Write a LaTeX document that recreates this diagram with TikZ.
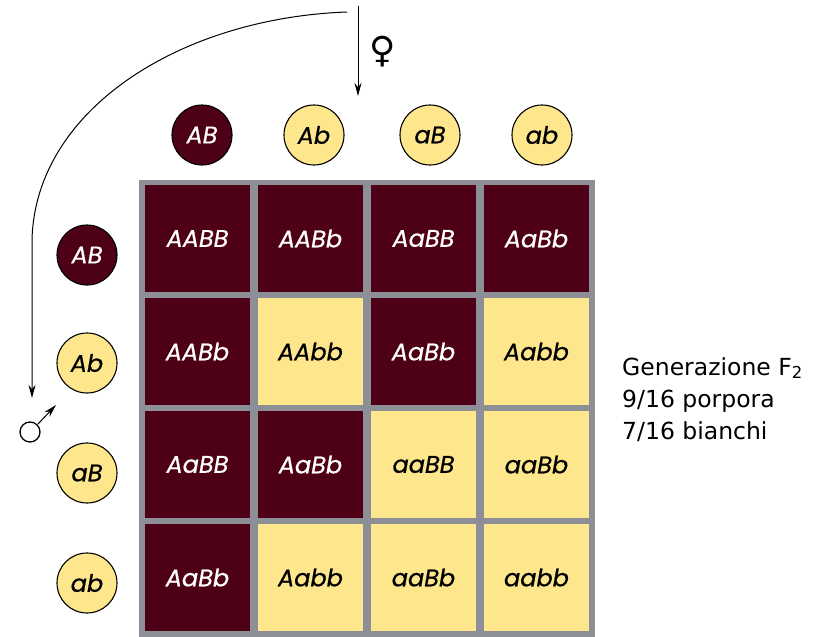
\documentclass[tikz,border=0pt]{standalone}
\usepackage{fontspec}
\setmainfont{DejaVu Sans}
\newfontfamily\geno{Poppins}[ItalicFeatures={FakeBold=0.7}]
\newfontfamily\symb{DejaVu Sans}
\usetikzlibrary{arrows.meta}
\definecolor{porpora}{HTML}{4E0016}
\definecolor{giallo}{HTML}{FDE68C}
\definecolor{griglia}{HTML}{8C8F96}
\begin{document}
\begin{tikzpicture}[x=1pt,y=-1pt,
  cell/.style={minimum width=105pt, minimum height=107pt, inner sep=0pt, font=\geno\itshape\fontsize{24}{28}\selectfont},
  dark/.style={cell, fill=porpora, text=white},
  light/.style={cell, fill=giallo, text=black},
  gam/.style={circle, draw=black, line width=1.1pt, minimum size=60pt, inner sep=0pt, font=\geno\itshape\fontsize{24}{26}\selectfont},
  gdark/.style={gam, fill=porpora, text=white},
  glight/.style={gam, fill=giallo, text=black},
  arr/.style={line width=1pt, -{Stealth[length=13pt,width=7pt]}},
  legend/.style={align=left, anchor=north west, inner sep=0pt, font=\fontsize{23.5}{32}\selectfont}
]
\useasboundingbox (0,0) rectangle (825,637);
% grid background
\fill[griglia] (139,180) rectangle (595,637);
% cells
\node[dark]  (c11) at (197.5,238.5) {AABB};
\node[dark]  (c12) at (310.5,238.5) {AABb};
\node[dark]  (c13) at (423.5,238.5) {AaBB};
\node[dark]  (c14) at (536.5,238.5) {AaBb};
\node[dark]  (c21) at (197.5,351.5) {AABb};
\node[light] (c22) at (310.5,351.5) {AAbb};
\node[dark]  (c23) at (423.5,351.5) {AaBb};
\node[light] (c24) at (536.5,351.5) {Aabb};
\node[dark]  (c31) at (197.5,464.5) {AaBB};
\node[dark]  (c32) at (310.5,464.5) {AaBb};
\node[light] (c33) at (423.5,464.5) {aaBB};
\node[light] (c34) at (536.5,464.5) {aaBb};
\node[dark]  (c41) at (197.5,577.5) {AaBb};
\node[light] (c42) at (310.5,577.5) {Aabb};
\node[light] (c43) at (423.5,577.5) {aaBb};
\node[light] (c44) at (536.5,577.5) {aabb};
% female gametes (top)
\node[gdark]  (f1) at (202,135) {AB};
\node[glight] (f2) at (314,135) {Ab};
\node[glight] (f3) at (430,135) {aB};
\node[glight] (f4) at (542,135) {ab};
% male gametes (left)
\node[gdark]  (m1) at (87,255) {AB};
\node[glight] (m2) at (87,363) {Ab};
\node[glight] (m3) at (87,473) {aB};
\node[glight] (m4) at (87,583) {ab};
% arrows
\coordinate (ftop) at (358,6);
\coordinate (fend) at (358,96);
\coordinate (cstart) at (347,12);
\coordinate (cmid) at (32,240);
\coordinate (cend) at (32,398);
\draw[arr] (ftop) -- (fend);
\draw[arr] (cstart) .. controls (180,18) and (35,110) .. (cmid) -- (cend);
\node[font=\symb\fontsize{36}{36}\selectfont, inner sep=0pt] (fem) at (383,52) {♀};
% male symbol
\node[circle, draw=black, line width=1.3pt, minimum size=20pt, inner sep=0pt] (mal) at (30,432) {};
\coordinate (maltip) at (56,405);
\draw[arr] (mal.45) -- (maltip);
% legend
\node[legend] (leg) at (622,357) {Generazione F\textsubscript{2}\\9/16 porpora\\7/16 bianchi};
\end{tikzpicture}
\end{document}
